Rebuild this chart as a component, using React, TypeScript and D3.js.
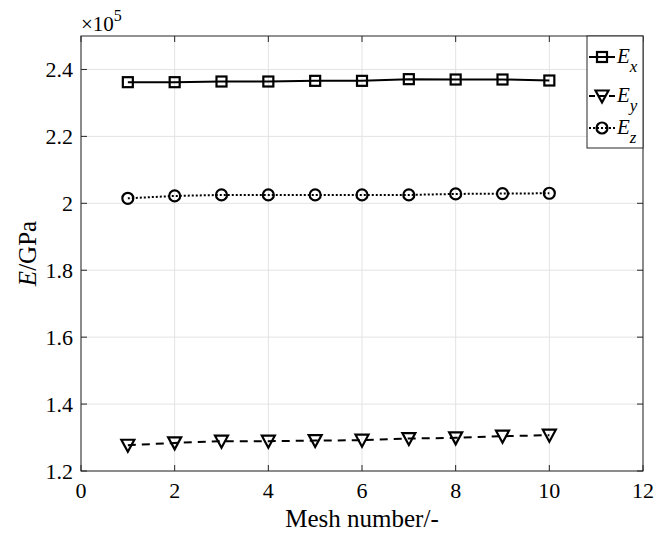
import React from "react";
import * as d3 from "d3";

const meshNumbers = [1, 2, 3, 4, 5, 6, 7, 8, 9, 10];
const ExValues = [2.362, 2.362, 2.364, 2.364, 2.366, 2.366, 2.371, 2.370, 2.370, 2.367];
const EyValues = [1.277, 1.284, 1.289, 1.289, 1.291, 1.292, 1.297, 1.299, 1.304, 1.307];
const EzValues = [2.015, 2.022, 2.025, 2.025, 2.025, 2.025, 2.025, 2.028, 2.029, 2.030];
const xTicks = [0, 2, 4, 6, 8, 10, 12];
const yTicks = [1.2, 1.4, 1.6, 1.8, 2.0, 2.2, 2.4];
const yTickLabels = ["1.2", "1.4", "1.6", "1.8", "2", "2.2", "2.4"];

const W = 666, H = 533;
const L = 81, R = 643, T = 36, B = 471;
const FONT = "Liberation Serif, DejaVu Serif, Times New Roman, serif";

export default function App() {
  const x = d3.scaleLinear().domain([0, 12]).range([L, R]);
  const y = d3.scaleLinear().domain([1.2, 2.5]).range([B, T]);
  const line = d3.line<number>().x((_, i) => x(meshNumbers[i])).y((d) => y(d));
  const axisColor = "#262626";
  const ts = { fontFamily: FONT };

  const square = (cx: number, cy: number, k: string) => (
    <rect key={k} x={cx - 5} y={cy - 5} width={10} height={10} fill="none" stroke="#000" strokeWidth={2.2} />
  );
  const tri = (cx: number, cy: number, k: string) => (
    <path key={k} d={`M${cx - 6.5},${cy - 5.5} L${cx + 6.5},${cy - 5.5} L${cx},${cy + 6.5} Z`} fill="none" stroke="#000" strokeWidth={2.2} strokeLinejoin="miter" />
  );
  const circ = (cx: number, cy: number, k: string) => (
    <circle key={k} cx={cx} cy={cy} r={5.5} fill="none" stroke="#000" strokeWidth={2.2} />
  );

  const legendItems = [
    { sub: "x", dash: undefined as string | undefined, mk: square, cy: 57 },
    { sub: "y", dash: "6,4", mk: tri, cy: 96 },
    { sub: "z", dash: "2,2", mk: circ, cy: 128 },
  ];

  return (
    <svg width={W} height={H} style={{ position: "absolute", left: 0, top: 0, background: "#fff" }}>
      <rect x={0} y={0} width={W} height={H} fill="#fff" />
      {xTicks.map((t) => (
        <line key={"gx" + t} x1={x(t)} x2={x(t)} y1={T} y2={B} stroke="#e3e3e3" strokeWidth={1} />
      ))}
      {yTicks.map((t) => (
        <line key={"gy" + t} x1={L} x2={R} y1={y(t)} y2={y(t)} stroke="#e3e3e3" strokeWidth={1} />
      ))}
      <rect x={L} y={T} width={R - L} height={B - T} fill="none" stroke={axisColor} strokeWidth={1} />
      {xTicks.map((t) => (
        <g key={"tx" + t}>
          <line x1={x(t)} x2={x(t)} y1={B} y2={B - 6} stroke={axisColor} />
          <line x1={x(t)} x2={x(t)} y1={T} y2={T + 6} stroke={axisColor} />
          <text x={x(t)} y={B + 27} fontSize={22} textAnchor="middle" fill="#000" style={ts}>{t}</text>
        </g>
      ))}
      {yTicks.map((t, i) => (
        <g key={"ty" + t}>
          <line x1={L} x2={L + 6} y1={y(t)} y2={y(t)} stroke={axisColor} />
          <line x1={R} x2={R - 6} y1={y(t)} y2={y(t)} stroke={axisColor} />
          <text x={L - 8} y={y(t) + 7.5} fontSize={22} textAnchor="end" fill="#000" style={ts}>{yTickLabels[i]}</text>
        </g>
      ))}
      <text x={81} y={31} fontSize={21} fill="#000" style={ts}>×10<tspan dy={-10} fontSize={16}>5</tspan></text>
      <text x={(L + R) / 2} y={527} fontSize={25} textAnchor="middle" fill="#000" style={ts}>Mesh number/-</text>
      <text transform={`translate(36,${(T + B) / 2}) rotate(-90)`} fontSize={25} textAnchor="middle" fill="#000" style={ts}>
        <tspan fontStyle="italic">E</tspan>/GPa
      </text>
      <path d={line(ExValues) || ""} fill="none" stroke="#000" strokeWidth={2} />
      <path d={line(EyValues) || ""} fill="none" stroke="#000" strokeWidth={2} strokeDasharray="8,6" />
      <path d={line(EzValues) || ""} fill="none" stroke="#000" strokeWidth={2} strokeDasharray="2,2" />
      {ExValues.map((v, i) => square(x(meshNumbers[i]), y(v), "sx" + i))}
      {EyValues.map((v, i) => tri(x(meshNumbers[i]), y(v), "ty" + i))}
      {EzValues.map((v, i) => circ(x(meshNumbers[i]), y(v), "cz" + i))}
      <rect x={587} y={T} width={R - 587} height={112} fill="#fff" stroke={axisColor} strokeWidth={1} />
      {legendItems.map((it, i) => (
        <g key={"lg" + i}>
          <line x1={589} x2={615} y1={it.cy} y2={it.cy} stroke="#000" strokeWidth={2} strokeDasharray={it.dash} />
          {it.mk(602, it.cy, "lm" + i)}
          <text x={617} y={it.cy + 6} fontSize={21} fontStyle="italic" fill="#000" style={ts}>
            E<tspan dy={9} fontSize={17}>{it.sub}</tspan>
          </text>
        </g>
      ))}
    </svg>
  );
}
